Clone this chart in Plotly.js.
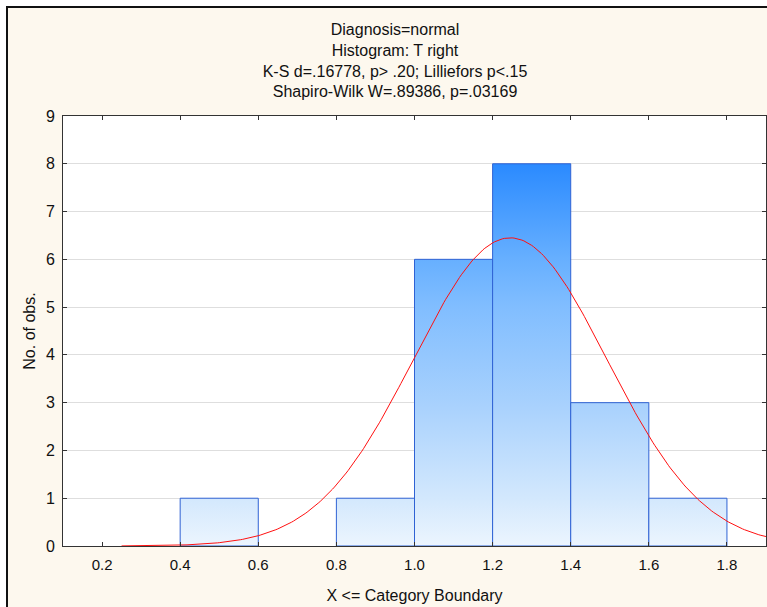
<!DOCTYPE html>
<html>
<head>
<meta charset="utf-8">
<script src="https://cdn.plot.ly/plotly-3.0.1.min.js"></script>
<style>
  html, body { margin: 0; padding: 0; background: #ffffff; }
  #wrap { position: relative; width: 767px; height: 607px; overflow: hidden; }
  #frame {
    position: absolute; left: 6px; top: 6px; right: -4px; bottom: -4px;
    background: #fdf8ee; border-left: 2px solid #111; border-top: 2px solid #111;
  }
  #chart { position: absolute; left: 0; top: 0; width: 767px; height: 607px; }
</style>
</head>
<body>
<div id="wrap">
  <div id="frame"></div>
  <div id="chart"></div>
</div>
<script>
// Histogram bins (upper category boundaries) and observation counts
const binLower = [0.4, 0.8, 1.0, 1.2, 1.4, 1.6];
const binUpper = [0.6, 1.0, 1.2, 1.4, 1.6, 1.8];
const counts   = [1, 1, 6, 8, 3, 1];

// X axis tick labels
const xTicks = [0.2, 0.4, 0.6, 0.8, 1.0, 1.2, 1.4, 1.6, 1.8];
const xTickText = ['0.2', '0.4', '0.6', '0.8', '1.0', '1.2', '1.4', '1.6', '1.8'];

// Fitted normal curve parameters
const fitMean = 1.245;
const fitSd = 0.2474;
const nObs = 20;
const binWidth = 0.2;
const curveStart = 0.25;
const curveEnd = 1.95;

const titleLines = [
  'Diagnosis=normal',
  'Histogram: T right',
  'K-S d=.16778, p> .20; Lilliefors p<.15',
  'Shapiro-Wilk W=.89386, p=.03169'
];

const barScale = [
  [0.00, '#ecf5fe'],
  [0.11, '#d3e8fd'],
  [0.33, '#a8d1fd'],
  [0.56, '#80bdff'],
  [0.67, '#66afff'],
  [0.89, '#2a8aff'],
  [1.00, '#1a82ff']
];

const traces = [];

// Each bin drawn as a closed outline filled with a vertical gradient
counts.forEach((c, i) => {
  traces.push({
    type: 'scatter',
    mode: 'lines',
    x: [binLower[i], binLower[i], binUpper[i], binUpper[i], binLower[i]],
    y: [0, c, c, 0, 0],
    fill: 'toself',
    fillgradient: { type: 'vertical', colorscale: barScale, start: 0, stop: 9 },
    line: { color: '#2f62d4', width: 1 },
    hoverinfo: 'text',
    text: binLower[i] + '–' + binUpper[i] + ': ' + c,
    showlegend: false
  });
});

// Expected counts under the fitted normal distribution
const curveX = [];
const curveY = [];
for (let x = curveStart; x <= curveEnd + 1e-9; x += 0.005) {
  const z = (x - fitMean) / fitSd;
  curveX.push(x);
  curveY.push(nObs * binWidth * Math.exp(-0.5 * z * z) / (fitSd * Math.sqrt(2 * Math.PI)));
}
traces.push({
  type: 'scatter',
  mode: 'lines',
  x: curveX,
  y: curveY,
  line: { color: '#ff1010', width: 1 },
  hoverinfo: 'skip',
  showlegend: false
});

const axisFont = { family: 'Liberation Sans, Arial, sans-serif', size: 15, color: '#111' };

const layout = {
  width: 767,
  height: 607,
  margin: { l: 63, r: 1, t: 116, b: 61, pad: 0 },
  paper_bgcolor: 'rgba(0,0,0,0)',
  plot_bgcolor: '#ffffff',
  font: axisFont,
  title: {
    text: titleLines.join('<br>'),
    font: { family: 'Liberation Sans, Arial, sans-serif', size: 16, color: '#111' },
    xref: 'container', x: 395 / 767, xanchor: 'center',
    yref: 'container', y: 1 - 35 / 607, yanchor: 'top'
  },
  xaxis: {
    range: [0.1, 1.9],
    tickvals: xTicks,
    ticktext: xTickText,
    ticks: 'inside', ticklen: 4, tickcolor: '#333',
    showline: true, linecolor: '#333', linewidth: 1, mirror: 'ticks',
    showgrid: false, zeroline: false,
    tickfont: axisFont,
    ticklabelstandoff: 5,
    title: { text: 'X <= Category Boundary', font: { family: 'Liberation Sans, Arial, sans-serif', size: 16, color: '#111' }, standoff: 17 }
  },
  yaxis: {
    range: [0, 9],
    dtick: 1,
    ticks: 'inside', ticklen: 4, tickcolor: '#333',
    showline: true, linecolor: '#333', linewidth: 1, mirror: 'ticks',
    showgrid: true, gridcolor: '#dedede', gridwidth: 1, zeroline: false,
    tickfont: { family: 'Liberation Sans, Arial, sans-serif', size: 16, color: '#111' },
    ticklabelstandoff: 4,
    title: { text: 'No. of obs.', font: { family: 'Liberation Sans, Arial, sans-serif', size: 16, color: '#111' }, standoff: 6 }
  }
};

Plotly.newPlot('chart', traces, layout, { displayModeBar: false, staticPlot: false });
</script>
</body>
</html>
